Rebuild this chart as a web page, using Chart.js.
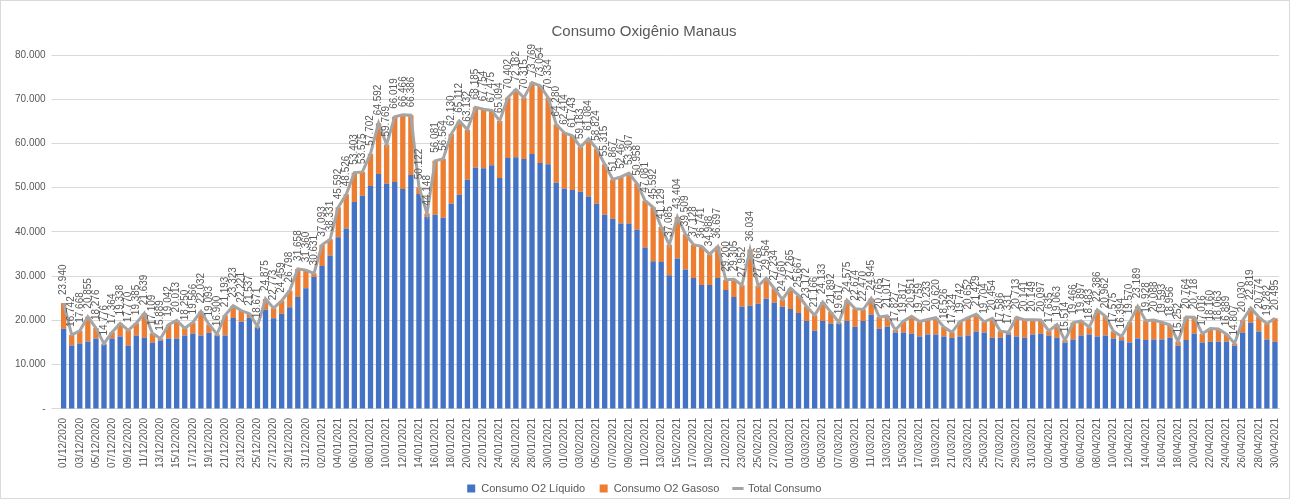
<!DOCTYPE html>
<html>
<head>
<meta charset="utf-8">
<script src="https://cdn.jsdelivr.net/npm/chart.js@4/dist/chart.umd.min.js"></script>
<style>
    body { margin: 0; background: #fff; }
    #wrap { width: 1290px; height: 499px; box-sizing: border-box; border: 1px solid #d9d9d9; position: relative; }
</style>
</head>
<body>
<div id="wrap"><canvas id="myChart"></canvas></div>
<script>
    // valores (01/12/2020 a 30/04/2021)
    var totalConsumo = [
        23940, 16742, 17668, 20855, 18276, 14776, 17364, 19338, 17770, 19385, 21639, 17109, 15889, 19042, 20013, 18250,
        19566, 22032, 19093, 16900, 21193, 23323, 22221, 21537, 18671, 24875, 22773, 24459, 26798, 31658, 31360,
        30631, 37093, 38331, 45592, 48526, 53403, 53575, 57702, 64592, 59769, 66019, 66466, 66386, 50122, 44148, 56081,
        56564, 62130, 65112, 63132, 68185, 67754, 67475, 65094, 70402, 72182, 70315, 73769, 73054, 70334, 64280,
        62414, 61743, 59183, 61084, 58824, 55315, 51867, 52467, 53307, 50958, 47081, 45592, 41129, 37085,
        43404, 39509, 37128, 36741, 34988, 36697, 29200, 29305, 27952, 36034, 27766, 29564, 27234, 24760,
        27265, 25667, 23172, 21166, 24133, 21892, 19617, 24575, 22674, 22470, 24945, 20765, 21017, 17827, 19817, 20951,
        19759, 20233, 20620, 18526, 17324, 19742, 20652, 21429, 19704, 20454, 17586, 17331, 20713, 20141, 20149,
        20097, 17635, 19063, 15514, 19466, 19897, 18483, 22386, 20962, 17575, 16394, 19570, 23189, 19928, 20088,
        19593, 18956, 15252, 20764, 20718, 17016, 18160, 18063, 16889, 14807, 20030, 22819, 20774, 19282, 20495
    ];

    var consumoLiquido = [
        18150, 14340, 14800, 15240, 15900, 14560, 15900, 16350, 14340, 16580, 16130, 15010, 15460, 15900, 15900, 16580,
        17030, 16580, 17250, 16580, 16580, 20550, 19700, 20600, 18400, 22400, 20500, 21500, 23000, 25300, 27300,
        29800, 32300, 34700, 38800, 40800, 46800, 48200, 50400, 53100, 50900, 51300, 49700, 52900, 48600, 43500, 43900,
        43200, 46400, 48400, 51800, 54500, 54400, 55100, 52200, 56700, 56900, 56500, 57600, 55600, 55300, 51100,
        49800, 49500, 49100, 48000, 46400, 43900, 43000, 41900, 41900, 40500, 36500, 33400, 33200, 30200,
        34000, 31500, 29600, 28000, 28000, 29600, 26900, 25300, 23100, 23300, 23800, 24900, 24000, 23100,
        22600, 21700, 19900, 17700, 19900, 19300, 19300, 19900, 18600, 19900, 21300, 18100, 18600, 17300, 17300, 17000,
        16400, 16800, 16800, 16400, 16100, 16400, 16600, 17500, 17300, 16100, 16100, 16800, 16400, 16100, 16800,
        17000, 16600, 16100, 15000, 15700, 16600, 16800, 16400, 16600, 15900, 15500, 15000, 15900, 15600, 15700,
        15700, 16100, 14300, 15600, 17000, 15000, 15200, 15200, 15200, 14300, 17300, 19500, 17500, 15700, 15200
    ];

    var monthDays = [[12, 2020, 31], [1, 2021, 31], [2, 2021, 28], [3, 2021, 31], [4, 2021, 30]];
    var yTicks = [0, 10000, 20000, 30000, 40000, 50000, 60000, 70000, 80000];

    function pad(n) { return (n < 10 ? '0' : '') + n; }

    var categories = [];
    monthDays.forEach(function (m) {
        for (var d = 1; d <= m[2]; d++) {
            categories.push(pad(d) + '/' + pad(m[0]) + '/' + m[1]);
        }
    });

    var consumoGasoso = totalConsumo.map(function (t, i) { return t - consumoLiquido[i]; });

    function fmt(v) {
        return String(v).replace(/\B(?=(\d{3})+(?!\d))/g, '.');
    }

    var FONT = '"Liberation Sans", Arial, sans-serif';

    // rótulos verticais em cima da linha do total
    var totalLabels = {
        id: 'totalLabels',
        beforeLayout: function (chart) {
            // legenda um pouco mais baixa, sem mudar a área do gráfico
            var lg = chart.legend;
            if (lg && !lg._patched) {
                var fit = lg.fit;
                lg.fit = function () {
                    fit.call(this);
                    this.height -= 6;
                };
                lg._patched = true;
            }
        },
        afterDatasetsDraw: function (chart) {
            var meta = chart.getDatasetMeta(2);
            var ctx = chart.ctx;
            ctx.save();
            ctx.font = '10px ' + FONT;
            ctx.fillStyle = '#595959';
            ctx.textAlign = 'left';
            ctx.textBaseline = 'middle';
            meta.data.forEach(function (pt, i) {
                ctx.save();
                ctx.translate(pt.x, pt.y - 8);
                ctx.rotate(-Math.PI / 2);
                ctx.fillText(fmt(totalConsumo[i]), 0, 0);
                ctx.restore();
            });
            ctx.restore();
        }
    };

    Chart.defaults.font.family = FONT;
    Chart.defaults.color = '#595959';

    var ctx = document.getElementById('myChart').getContext('2d');
    var myChart = new Chart(ctx, {
        type: 'bar',
        data: {
            labels: categories,
            datasets: [{
                label: 'Consumo O2 Líquido',
                data: consumoLiquido,
                backgroundColor: '#4472C4',
                stack: 'barras',
                pointStyle: 'rect',
                barPercentage: 0.66,
                categoryPercentage: 1,
                order: 2
            }, {
                label: 'Consumo O2 Gasoso',
                data: consumoGasoso,
                backgroundColor: '#ED7D31',
                stack: 'barras',
                pointStyle: 'rect',
                barPercentage: 0.66,
                categoryPercentage: 1,
                order: 2
            }, {
                type: 'line',
                label: 'Total Consumo',
                data: totalConsumo,
                borderColor: '#A5A5A5',
                backgroundColor: '#A5A5A5',
                borderWidth: 3,
                pointRadius: 0,
                pointStyle: 'line',
                tension: 0,
                stack: 'linha',
                order: 1
            }]
        },
        options: {
            responsive: true,
            maintainAspectRatio: false,
            animation: false,
            layout: { padding: { left: 8, right: 10, top: 4, bottom: 0 } },
            scales: {
                x: {
                    stacked: true,
                    grid: { display: false },
                    border: { color: '#d9d9d9' },
                    ticks: {
                        autoSkip: false,
                        maxRotation: 90,
                        minRotation: 90,
                        padding: 1,
                        font: { size: 10 },
                        callback: function (v, i) { return i % 2 === 0 ? categories[i] : ''; }
                    }
                },
                y: {
                    stacked: true,
                    min: 0,
                    max: 80000,
                    afterBuildTicks: function (axis) {
                        axis.ticks = yTicks.map(function (v) { return { value: v }; });
                    },
                    grid: { color: '#d9d9d9' },
                    border: { display: false },
                    ticks: {
                        padding: 6,
                        font: { size: 10 },
                        callback: function (v) { return v === 0 ? '-' : fmt(v); }
                    }
                }
            },
            plugins: {
                title: {
                    display: true,
                    text: 'Consumo Oxigênio Manaus',
                    color: '#595959',
                    font: { size: 15, weight: 'normal' },
                    padding: { top: 18, bottom: 14 }
                },
                legend: {
                    position: 'bottom',
                    labels: {
                        usePointStyle: true,
                        boxWidth: 9,
                        boxHeight: 8,
                        padding: 14,
                        font: { size: 11 },
                        sort: function (a, b) { return a.datasetIndex - b.datasetIndex; }
                    }
                },
                tooltip: { enabled: false }
            }
        },
        plugins: [totalLabels]
    });
</script>
</body>
</html>
